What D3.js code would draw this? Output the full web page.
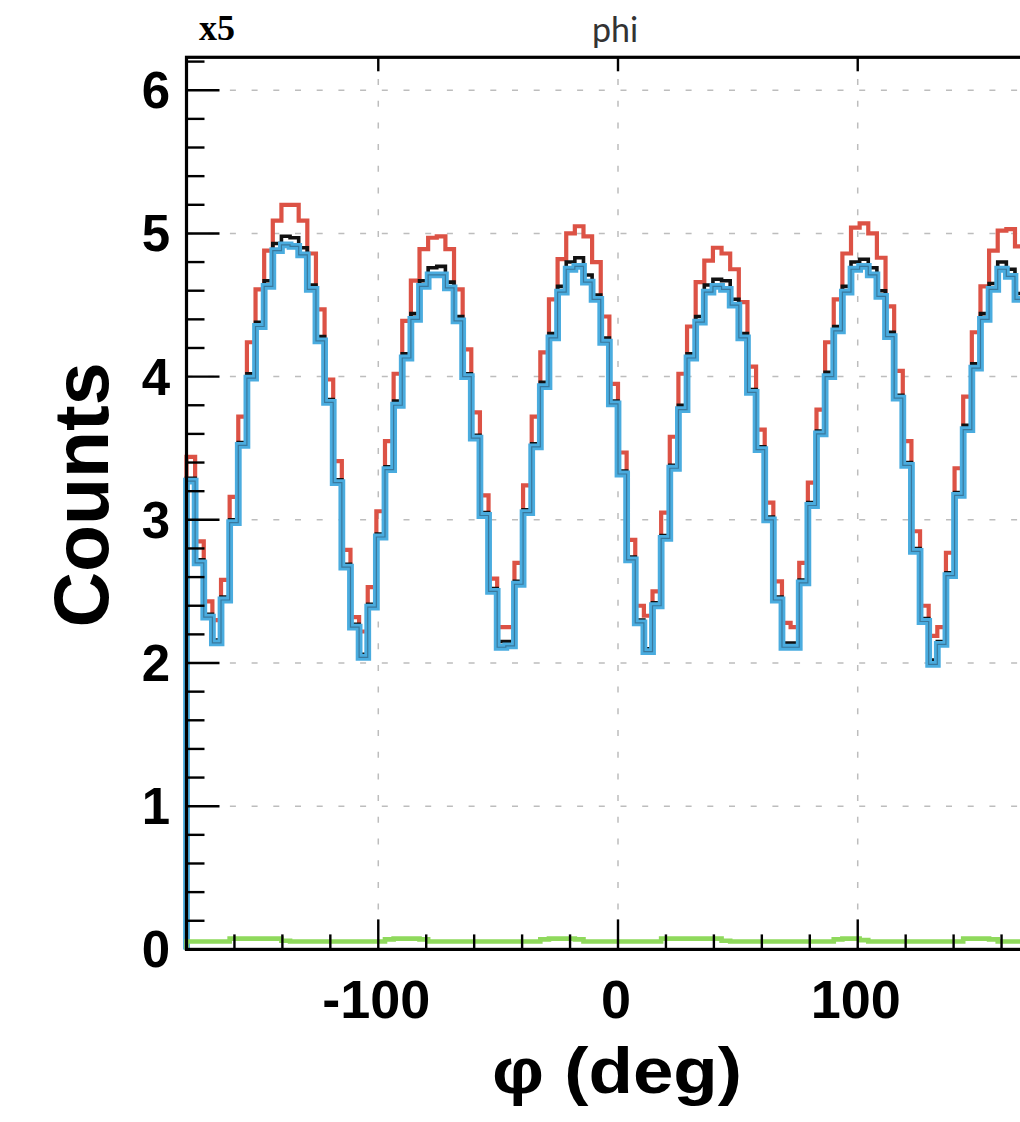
<!DOCTYPE html>
<html>
<head>
<meta charset="utf-8">
<script src="https://cdn.jsdelivr.net/npm/d3@7"></script>
<style>
  html, body { margin: 0; padding: 0; background: #ffffff; }
  svg { display: block; }
</style>
</head>
<body>
<svg id="chart" width="1020" height="1122"></svg>
<script>
// ---- data (phi histogram, 100 bins from -180 to 180 deg) ----
const phiMin = -180;
const phiMax = 180;
const xTickValues = [-100, 0, 100];
const xTickLabels = ["-100", "0", "100"];
const yTickValues = [0, 1, 2, 3, 4, 5, 6];
const yTickLabels = ["0", "1", "2", "3", "4", "5", "6"];

const redCounts = [
  3.44, 2.85, 2.43, 2.30, 2.58, 3.16, 3.72, 4.24, 4.61, 4.88,
  5.09, 5.20, 5.20, 5.09, 4.86, 4.47, 3.98, 3.41, 2.79, 2.32,
  2.22, 2.53, 3.06, 3.55, 4.02, 4.39, 4.67, 4.89, 4.97, 4.98,
  4.89, 4.61, 4.19, 3.75, 3.17, 2.59, 2.25, 2.25, 2.70, 3.24,
  3.72, 4.17, 4.54, 4.82, 5.00, 5.05, 4.98, 4.80, 4.42, 3.95,
  3.47, 2.86, 2.40, 2.33, 2.50, 3.05, 3.58, 4.02, 4.35, 4.66,
  4.81, 4.90, 4.86, 4.75, 4.52, 4.07, 3.63, 3.12, 2.57, 2.28,
  2.25, 2.70, 3.26, 3.77, 4.24, 4.54, 4.86, 5.04, 5.07, 5.00,
  4.83, 4.49, 4.04, 3.55, 2.92, 2.40, 2.19, 2.25, 2.77, 3.36,
  3.86, 4.31, 4.63, 4.88, 5.02, 5.03, 4.91, 4.62, 4.33, 3.95
];
const blackCounts = [
  3.29, 2.72, 2.34, 2.16, 2.46, 3.00, 3.54, 4.02, 4.38, 4.67,
  4.93, 4.98, 4.97, 4.90, 4.64, 4.28, 3.84, 3.28, 2.69, 2.27,
  2.06, 2.41, 2.90, 3.37, 3.83, 4.16, 4.44, 4.67, 4.76, 4.77,
  4.66, 4.42, 4.02, 3.59, 3.05, 2.52, 2.15, 2.15, 2.57, 3.07,
  3.53, 3.96, 4.30, 4.63, 4.80, 4.83, 4.71, 4.57, 4.27, 3.83,
  3.34, 2.74, 2.30, 2.10, 2.42, 2.89, 3.38, 3.80, 4.16, 4.42,
  4.64, 4.68, 4.67, 4.54, 4.30, 3.91, 3.51, 3.02, 2.46, 2.14,
  2.14, 2.58, 3.12, 3.62, 4.03, 4.35, 4.63, 4.80, 4.82, 4.76,
  4.60, 4.31, 3.87, 3.40, 2.80, 2.31, 2.02, 2.15, 2.63, 3.19,
  3.66, 4.09, 4.44, 4.65, 4.80, 4.75, 4.58, 4.41, 4.14, 3.78
];
const blueCounts = [
  3.27, 2.70, 2.32, 2.14, 2.44, 2.98, 3.52, 3.99, 4.35, 4.63,
  4.88, 4.92, 4.91, 4.85, 4.61, 4.25, 3.82, 3.26, 2.67, 2.25,
  2.04, 2.39, 2.88, 3.35, 3.80, 4.13, 4.40, 4.63, 4.71, 4.71,
  4.62, 4.39, 4.00, 3.57, 3.03, 2.50, 2.11, 2.12, 2.55, 3.05,
  3.51, 3.93, 4.27, 4.59, 4.75, 4.77, 4.66, 4.54, 4.24, 3.81,
  3.32, 2.72, 2.28, 2.08, 2.40, 2.87, 3.36, 3.77, 4.13, 4.38,
  4.59, 4.63, 4.61, 4.50, 4.27, 3.89, 3.49, 3.00, 2.44, 2.11,
  2.11, 2.56, 3.10, 3.60, 4.00, 4.32, 4.59, 4.75, 4.77, 4.71,
  4.56, 4.28, 3.85, 3.38, 2.78, 2.29, 1.99, 2.13, 2.61, 3.17,
  3.63, 4.06, 4.40, 4.61, 4.75, 4.70, 4.54, 4.38, 4.12, 3.76
];
const greenCounts = [
  0.055, 0.055, 0.055, 0.055, 0.055, 0.075, 0.075, 0.075, 0.075, 0.075,
  0.075, 0.060, 0.055, 0.055, 0.055, 0.055, 0.055, 0.055, 0.055, 0.055,
  0.055, 0.055, 0.055, 0.070, 0.075, 0.075, 0.075, 0.070, 0.055, 0.055,
  0.055, 0.055, 0.055, 0.055, 0.055, 0.055, 0.055, 0.055, 0.055, 0.055,
  0.055, 0.070, 0.075, 0.075, 0.075, 0.070, 0.055, 0.055, 0.055, 0.055,
  0.055, 0.055, 0.055, 0.055, 0.055, 0.075, 0.075, 0.075, 0.075, 0.075,
  0.075, 0.075, 0.060, 0.055, 0.055, 0.055, 0.055, 0.055, 0.055, 0.055,
  0.055, 0.055, 0.055, 0.055, 0.055, 0.070, 0.075, 0.075, 0.065, 0.055,
  0.055, 0.055, 0.055, 0.055, 0.055, 0.055, 0.055, 0.055, 0.055, 0.055,
  0.075, 0.075, 0.075, 0.070, 0.055, 0.055, 0.055, 0.055, 0.055, 0.055
];

const titleText = "phi";
const scaleText = "x5";
const xTitle = "\u03c6 (deg)";
const yTitle = "Counts";

// ---- layout ----
const svg = d3.select("#chart");
const frame = { left: 186.5, right: 1049.5, top: 57.3, bottom: 949.4 };
const yMaxDomain = 6.23;

const x = d3.scaleLinear().domain([phiMin, phiMax]).range([frame.left, frame.right]);
const y = d3.scaleLinear().domain([0, yMaxDomain]).range([frame.bottom, frame.top]);

svg.append("rect").attr("width", 1020).attr("height", 1122).attr("fill", "#ffffff");

// grid
const gridColor = "#bdbdbd";
const gGrid = svg.append("g");
gGrid.selectAll("line.hg").data(yTickValues.filter(v => v > 0)).join("line")
  .attr("x1", frame.left).attr("x2", frame.right)
  .attr("y1", d => y(d)).attr("y2", d => y(d))
  .attr("stroke", gridColor).attr("stroke-width", 1.5)
  .attr("stroke-dasharray", "6,15.7");
gGrid.selectAll("line.vg").data(xTickValues).join("line")
  .attr("x1", d => x(d)).attr("x2", d => x(d))
  .attr("y1", frame.top).attr("y2", frame.bottom)
  .attr("stroke", gridColor).attr("stroke-width", 1.5)
  .attr("stroke-dasharray", "6,15.7");

// histogram step path builder
function stepPoints(values) {
  const n = values.length;
  const w = (phiMax - phiMin) / n;
  const pts = [[x(phiMin), y(0)]];
  values.forEach((v, i) => {
    pts.push([x(phiMin + i * w), y(v)]);
    pts.push([x(phiMin + (i + 1) * w), y(v)]);
  });
  pts.push([x(phiMax), y(0)]);
  return pts;
}
const line = d3.line();

const gHist = svg.append("g");
gHist.append("path").attr("d", line(stepPoints(redCounts)))
  .attr("fill", "none").attr("stroke", "#dc5245").attr("stroke-width", 4.2)
  .attr("stroke-linejoin", "miter");
gHist.append("path").attr("d", line(stepPoints(blackCounts)))
  .attr("fill", "none").attr("stroke", "#111111").attr("stroke-width", 3.6)
  .attr("stroke-linejoin", "miter");
gHist.append("path").attr("d", line(stepPoints(blueCounts)))
  .attr("fill", "none").attr("stroke", "#4aacdf").attr("stroke-width", 6.8)
  .attr("stroke-linejoin", "miter");
gHist.append("path").attr("d", line(stepPoints(blueCounts)))
  .attr("fill", "none").attr("stroke", "#2c4f66").attr("stroke-width", 1.2)
  .attr("stroke-opacity", 0.55);
gHist.append("path").attr("d", line(stepPoints(greenCounts)))
  .attr("fill", "none").attr("stroke", "#8fd95c").attr("stroke-width", 4.6);

// axes: ticks
const gAx = svg.append("g").attr("stroke", "#000");
// y ticks (major + minor)
const yMinor = d3.range(0, yMaxDomain + 1e-9, 0.2).map(v => +v.toFixed(2));
gAx.selectAll("line.ytick").data(yMinor).join("line")
  .attr("x1", frame.left).attr("x2", d => frame.left + (Math.abs(d - Math.round(d)) < 1e-6 ? 33 : 18))
  .attr("y1", d => y(d)).attr("y2", d => y(d))
  .attr("stroke-width", 2.4);
// x ticks (major + minor every 20)
const xMinor = d3.range(-160, phiMax, 20);
gAx.selectAll("line.xtick").data(xMinor).join("line")
  .attr("x1", d => x(d)).attr("x2", d => x(d))
  .attr("y1", frame.bottom).attr("y2", d => frame.bottom - (d % 100 === 0 ? 30 : 15))
  .attr("stroke-width", 2.4);
// top short ticks at majors
gAx.selectAll("line.ttick").data(xTickValues).join("line")
  .attr("x1", d => x(d)).attr("x2", d => x(d))
  .attr("y1", frame.top).attr("y2", frame.top + 14)
  .attr("stroke-width", 2.4);

// frame
svg.append("rect")
  .attr("x", frame.left).attr("y", frame.top)
  .attr("width", frame.right - frame.left).attr("height", frame.bottom - frame.top)
  .attr("fill", "none").attr("stroke", "#000").attr("stroke-width", 3.2);

// tick labels
const labelFont = "'Liberation Sans', Arial, Helvetica, sans-serif";
svg.append("g").selectAll("text").data(yTickValues).join("text")
  .attr("x", 170).attr("y", d => y(d) + 18)
  .attr("text-anchor", "end")
  .attr("font-family", labelFont).attr("font-weight", "bold").attr("font-size", 51)
  .attr("fill", "#000")
  .text((d, i) => yTickLabels[i]);
svg.append("g").selectAll("text").data(xTickValues).join("text")
  .attr("x", d => x(d) - 2).attr("y", 1018)
  .attr("text-anchor", "middle")
  .attr("font-family", labelFont).attr("font-weight", "bold").attr("font-size", 54)
  .attr("fill", "#000")
  .text((d, i) => xTickLabels[i]);

// axis titles
svg.append("text")
  .attr("x", 617).attr("y", 1093)
  .attr("text-anchor", "middle")
  .attr("font-family", labelFont).attr("font-weight", "bold").attr("font-size", 65)
  .attr("textLength", 250).attr("lengthAdjust", "spacingAndGlyphs")
  .attr("fill", "#000")
  .text(xTitle);
svg.append("text")
  .attr("transform", "translate(108,495) rotate(-90)")
  .attr("text-anchor", "middle")
  .attr("font-family", labelFont).attr("font-weight", "bold").attr("font-size", 77)
  .attr("fill", "#000")
  .text(yTitle);

// title & scale note
svg.append("text")
  .attr("x", 615).attr("y", 42)
  .attr("text-anchor", "middle")
  .attr("font-family", "Lato, 'Open Sans', sans-serif").attr("font-size", 34)
  .attr("fill", "#333")
  .text(titleText);
svg.append("text")
  .attr("x", 199).attr("y", 40)
  .attr("font-family", "'Liberation Serif', 'Times New Roman', serif").attr("font-weight", "bold").attr("font-size", 36)
  .attr("fill", "#000")
  .text(scaleText);
</script>
</body>
</html>
